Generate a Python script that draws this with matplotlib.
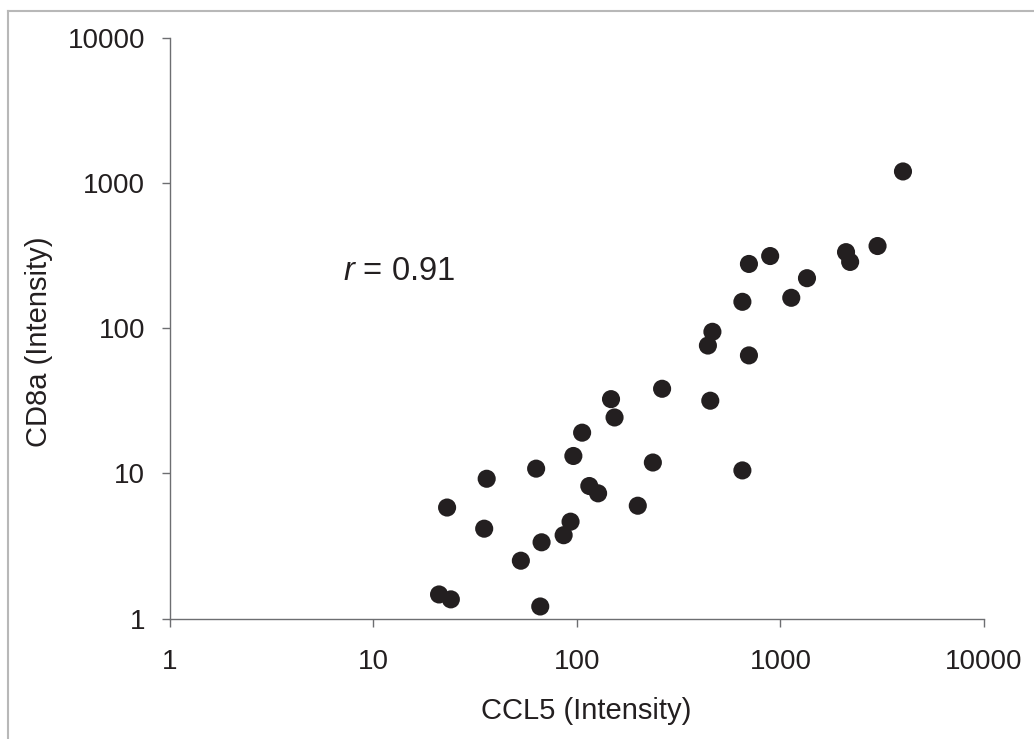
import matplotlib.pyplot as plt
from matplotlib.lines import Line2D

# CCL5 vs CD8a intensities
ccl5 = [4000, 3000, 2100, 2200, 1350, 890, 700, 1130, 650, 463,
        440, 700, 262, 452, 147, 153, 106, 96, 63, 236,
        650, 36, 115, 127, 23, 199, 35, 93, 86, 67,
        53, 21, 24, 66]
cd8a = [1200, 368, 334, 286, 221, 314, 277, 162, 152, 94.5,
        76, 65, 38.3, 31.7, 32.5, 24.3, 19.1, 13.2, 10.8, 11.9,
        10.5, 9.2, 8.2, 7.3, 5.83, 6.0, 4.17, 4.66, 3.76, 3.36,
        2.51, 1.47, 1.36, 1.215]
ticks = [1, 10, 100, 1000, 10000]
tick_labels = ["1", "10", "100", "1000", "10000"]

plt.rcParams['font.family'] = ['Liberation Sans', 'DejaVu Sans']
plt.rcParams['mathtext.fontset'] = 'custom'
plt.rcParams['mathtext.it'] = 'Liberation Sans:italic'
plt.rcParams['mathtext.rm'] = 'Liberation Sans'

text_color = '#231f20'
axis_color = '#6d6e71'

fig = plt.figure(figsize=(10.34, 7.39), dpi=100)
ax = fig.add_axes([0.1644, 0.1627, 0.7872, 0.7863])

# light gray frame around the figure (only top + left visible)
fig.add_artist(Line2D([8 / 1034, 8 / 1034], [0, 1 - 11 / 739],
                      transform=fig.transFigure, color='#b8b8b8', lw=1.5))
fig.add_artist(Line2D([8 / 1034, 1], [1 - 11 / 739, 1 - 11 / 739],
                      transform=fig.transFigure, color='#b8b8b8', lw=1.5))

ax.scatter(ccl5, cd8a, s=170, color=text_color, edgecolors='none',
           zorder=3, clip_on=False)

ax.set_xscale('log')
ax.set_yscale('log')
ax.set_xlim(1, 10000)
ax.set_ylim(1, 10000)
ax.set_xticks(ticks)
ax.set_xticklabels(tick_labels)
ax.set_yticks(ticks)
ax.set_yticklabels(tick_labels)
ax.minorticks_off()

for side in ['top', 'right']:
    ax.spines[side].set_visible(False)
for side in ['left', 'bottom']:
    ax.spines[side].set_color(axis_color)
    ax.spines[side].set_linewidth(1.0)

ax.tick_params(axis='both', direction='out', length=6, width=1.0,
               color=axis_color, labelsize=20, labelcolor=text_color)
ax.tick_params(axis='x', pad=16)
ax.tick_params(axis='y', pad=12)

ax.set_xlabel("CCL5 (Intensity)", fontsize=21, color=text_color)
ax.set_ylabel("CD8a (Intensity)", fontsize=21, color=text_color)
ax.xaxis.set_label_coords(0.511, -0.134)
ax.yaxis.set_label_coords(-0.144, 0.477)

ax.text(0.2125, 0.583, "$r$ = 0.91", transform=ax.transAxes,
        fontsize=23.5, color=text_color, ha='left', va='baseline')

fig.savefig("out.png", dpi=100)
